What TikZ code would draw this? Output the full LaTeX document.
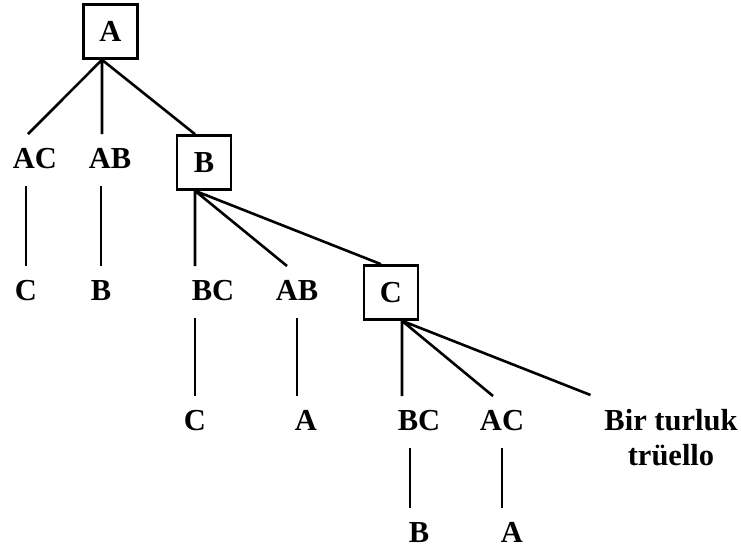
\documentclass[tikz,border=0pt]{standalone}
\usepackage{fontspec}
\setmainfont{Liberation Serif}

\tikzset{
  box/.style={draw, line width=2.6pt, minimum size=54pt, inner sep=0pt,
    font=\fontsize{30.5}{35}\selectfont\bfseries},
  lbl/.style={anchor=base, inner sep=0pt, outer sep=14pt, text height=20pt,
    text depth=4pt, font=\fontsize{30.5}{35}\selectfont\bfseries},
  endlbl/.style={anchor=north, align=center, inner sep=0pt, outer sep=14pt,
    font=\fontsize{30.5}{35}\selectfont\bfseries}
}

\begin{document}
\begin{tikzpicture}[x=1pt, y=-1pt, line width=2.6pt]
	\useasboundingbox (0,0) rectangle (741,552);
	% first round
	\node[box] (A) at (110.5,31.5) {A};
	\node[lbl] (AC1) at (35,168) {AC};
	\node[lbl] (AB1) at (110,168) {AB};
	\node[box] (B) at (204,162.5) {B};
	% second round
	\node[lbl] (C2) at (26,300) {C};
	\node[lbl] (B2) at (101,300) {B};
	\node[lbl] (BC2) at (213,300) {BC};
	\node[lbl] (AB2) at (297,300) {AB};
	\node[box] (C) at (391,292.5) {C};
	% third round
	\node[lbl] (C3) at (195,430) {C};
	\node[lbl] (A3) at (306,430) {A};
	\node[lbl] (BC3) at (419,430) {BC};
	\node[lbl] (AC3) at (502,430) {AC};
	\node[endlbl] (end) at (671,395) {Bir turluk\\trüello};
	\node[lbl] (B4) at (419,542) {B};
	\node[lbl] (A4) at (512,542) {A};

	\draw ([xshift=-8.5pt]A.south) -- ([xshift=-7pt]AC1.north)
		([xshift=-8.5pt]A.south) -- ([xshift=-8pt]AB1.north)
		([xshift=-8.5pt]A.south) -- ([xshift=-9pt]B.north);
	\draw (C2.north |- AC1.south) -- (C2.north)
		(B2.north |- AB1.south) -- (B2.north);

	\draw ([xshift=-9pt]B.south) -- ([xshift=-18pt]BC2.north)
		([xshift=-9pt]B.south) -- ([xshift=-10pt]AB2.north)
		([xshift=-9pt]B.south) -- ([xshift=-10pt]C.north);
	\draw (C3.north |- BC2.south) -- (C3.north)
		(AB2.south) -- (AB2.south |- A3.north);

	\draw ([xshift=11pt]C.south) -- ([xshift=-17pt]BC3.north)
		([xshift=11pt]C.south) -- ([xshift=-9pt]AC3.north)
		([xshift=11pt]C.south) -- (end.north west);
	\draw ([xshift=-9pt]BC3.south) -- ([xshift=-9pt]B4.north)
		(AC3.south) -- (AC3.south |- A4.north);
\end{tikzpicture}
\end{document}
